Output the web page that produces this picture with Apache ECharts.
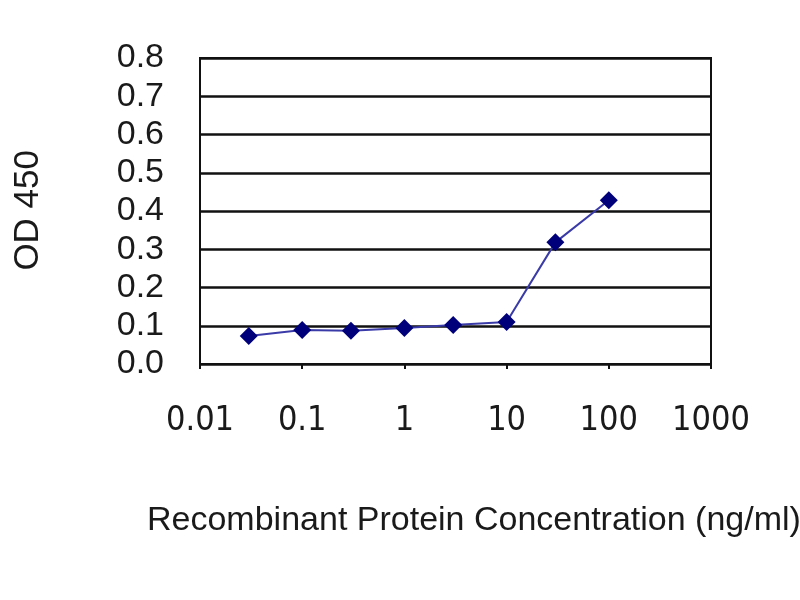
<!DOCTYPE html>
<html>
<head>
<meta charset="utf-8">
<script src="https://cdn.jsdelivr.net/npm/echarts@6/dist/echarts.min.js"></script>
<style>html,body{margin:0;padding:0;background:#fff}#c{width:800px;height:600px}</style>
</head>
<body>
<div id="c"></div>
<script>
const concentrations = [0.03, 0.1, 0.3, 1, 3, 10, 30, 100];
const od450 = [0.073, 0.089, 0.087, 0.094, 0.102, 0.110, 0.318, 0.428];
const xTickLabels = ['0.01', '0.1', '1', '10', '100', '1000'];
const yTickLabels = ['0.0', '0.1', '0.2', '0.3', '0.4', '0.5', '0.6', '0.7', '0.8'];
const xTitle = 'Recombinant Protein Concentration (ng/ml)';
const yTitle = 'OD 450';

const chart = echarts.init(document.getElementById('c'), null, {renderer: 'canvas'});
chart.setOption({
  animation: false,
  backgroundColor: '#fff',
  grid: {left: 200, right: 89, top: 58, bottom: 236, show: true, borderColor: '#111', borderWidth: 2, backgroundColor: 'transparent'},
  xAxis: {
    type: 'log', logBase: 10, min: 0.01, max: 1000,
    axisLine: {show: true, lineStyle: {color: '#111', width: 2}},
    axisTick: {show: true, length: 5, lineStyle: {color: '#111', width: 2}},
    minorTick: {show: false},
    splitLine: {show: false},
    axisLabel: {
      margin: 40, color: '#1a1a1a', fontSize: 34,
      fontFamily: '"Liberation Sans Narrow", "DejaVu Sans Condensed", "Liberation Sans", sans-serif',
      formatter: function (v) {
        const i = Math.round(Math.log10(v) + 2);
        return xTickLabels[i] !== undefined ? xTickLabels[i] : '';
      }
    }
  },
  yAxis: {
    type: 'value', min: 0, max: 0.8, interval: 0.1,
    axisLine: {show: true, lineStyle: {color: '#111', width: 2}},
    axisTick: {show: false},
    splitLine: {show: true, lineStyle: {color: '#111', width: 2.5}},
    axisLabel: {
      margin: 36, color: '#1a1a1a', fontSize: 34,
      fontFamily: '"Liberation Sans", Arial, sans-serif',
      formatter: function (v) {
        const i = Math.round(v * 10);
        return yTickLabels[i] !== undefined ? yTickLabels[i] : '';
      }
    }
  },
  graphic: [
    {type: 'text', left: 147, top: 504,
     style: {text: xTitle, font: '34px "Liberation Sans", Arial, sans-serif', fill: '#1a1a1a'}},
    {type: 'text', left: 11, top: 150, rotation: Math.PI / 2,
     style: {text: yTitle, font: '35px "Liberation Sans", Arial, sans-serif', fill: '#1a1a1a'}}
  ],
  series: [{
    type: 'line',
    data: concentrations.map((c, i) => [c, od450[i]]),
    symbol: 'diamond', symbolSize: 18,
    itemStyle: {color: '#00007a'},
    lineStyle: {color: '#3a3aa8', width: 2},
    smooth: false
  }]
});
</script>
</body>
</html>
